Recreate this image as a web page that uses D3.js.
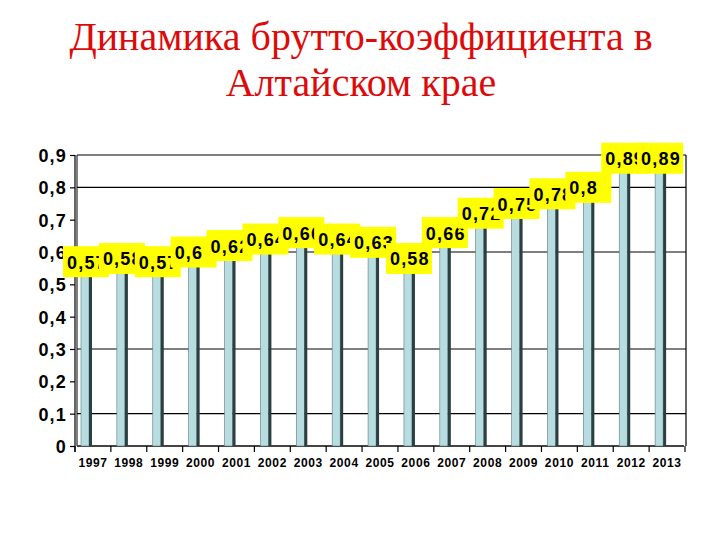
<!DOCTYPE html>
<html><head><meta charset="utf-8">
<script src="https://cdn.jsdelivr.net/npm/d3@7"></script>
<style>body{margin:0;background:#fff}svg{display:block}</style>
</head><body>
<script>
const years = ["1997","1998","1999","2000","2001","2002","2003","2004","2005","2006","2007","2008","2009","2010","2011","2012","2013"];
const values = [0.57,0.58,0.57,0.6,0.62,0.64,0.66,0.64,0.63,0.58,0.66,0.72,0.75,0.78,0.8,0.89,0.89];
const labels = ["0,57","0,58","0,57","0,6","0,62","0,64","0,66","0,64","0,63","0,58","0,66","0,72","0,75","0,78","0,8","0,89","0,89"];
const yTicks = [0,0.1,0.2,0.3,0.4,0.5,0.6,0.7,0.8,0.9];
const yTickLabels = ["0","0,1","0,2","0,3","0,4","0,5","0,6","0,7","0,8","0,9"];
const gridVals = [0.1,0.3,0.6,0.8];
const titleLines = ["Динамика брутто-коэффициента в","Алтайском крае"];

const W=720,H=540;
const SANS="Liberation Sans, Arial, sans-serif";
const svg=d3.select("body").append("svg").attr("width",W).attr("height",H);

svg.selectAll("text.title").data(titleLines).enter().append("text")
  .attr("x",361).attr("y",(d,i)=>50+i*46)
  .attr("text-anchor","middle")
  .style("font-family","'Liberation Serif','Times New Roman',serif")
  .attr("font-size",40).attr("fill","#dd0a0a").text(d=>d);

const x=d3.scaleBand().domain(years).range([75,685]).padding(0);
const y=d3.scaleLinear().domain([0,0.9]).range([446,155]);
const wallX=77, rightX=686;

svg.selectAll("line.grid").data(gridVals).enter().append("line")
  .attr("x1",wallX).attr("x2",rightX).attr("y1",d=>y(d)).attr("y2",d=>y(d))
  .attr("stroke","#000").attr("stroke-width",1.2);
svg.append("line").attr("x1",wallX).attr("x2",rightX).attr("y1",y(0.9)).attr("y2",y(0.9)).attr("stroke","#000").attr("stroke-width",1.2);
svg.append("line").attr("x1",rightX).attr("x2",rightX).attr("y1",y(0.9)).attr("y2",y(0)).attr("stroke","#000").attr("stroke-width",1.2);
svg.append("line").attr("x1",wallX).attr("x2",wallX).attr("y1",y(0.9)).attr("y2",y(0)).attr("stroke","#000").attr("stroke-width",1);
svg.append("line").attr("x1",wallX).attr("x2",rightX-2).attr("y1",y(0)).attr("y2",y(0)).attr("stroke","#444").attr("stroke-width",2.2);

const yAxis=d3.axisLeft(y).tickValues(yTicks).tickSize(5).tickFormat((d,i)=>yTickLabels[i]);
const gy=svg.append("g").attr("transform","translate(75,0)").call(yAxis);
gy.attr("font-family",SANS).attr("font-size",18).attr("font-weight","bold");
gy.select(".domain").attr("d","M0,"+y(0.9)+"V"+(y(0)+6)).attr("stroke","#000").attr("stroke-width",1.2);
gy.selectAll(".tick line").attr("stroke","#000").attr("stroke-width",1.2);
gy.selectAll(".tick text").attr("x",-8).attr("dy","0.36em")
  .attr("letter-spacing","1.2px").attr("fill","#000");

const xAxis=d3.axisBottom(x).tickSize(0).tickSizeOuter(0);
const gx=svg.append("g").attr("transform","translate(0,"+y(0)+")").call(xAxis);
gx.attr("font-family",SANS).attr("font-size",12).attr("font-weight","bold");
gx.select(".domain").remove();
gx.selectAll(".tick text").attr("y",21).attr("dy",0)
  .attr("letter-spacing","0.6px").attr("fill","#000");
const bounds=years.map(d=>x(d)).concat([x(years[years.length-1])+x.bandwidth()]);
svg.selectAll("line.xt").data(bounds).enter().append("line")
  .attr("x1",d=>d).attr("x2",d=>d).attr("y1",y(0)).attr("y2",y(0)+6)
  .attr("stroke","#000").attr("stroke-width",1.2);

const bars=svg.selectAll("g.bar").data(values).enter().append("g");
bars.append("rect").attr("x",(d,i)=>x(years[i])+6).attr("y",d=>y(d))
  .attr("width",8).attr("height",d=>y(0)-y(d)).attr("fill","#b8dde1")
  .attr("stroke","#5a7a7c").attr("stroke-width",0.6);
bars.append("rect").attr("x",(d,i)=>x(years[i])+14).attr("y",d=>y(d))
  .attr("width",3).attr("height",d=>y(0)-y(d)).attr("fill","#2c3f40");

const boxW=46, boxH=31;
const lab=svg.selectAll("g.lab").data(values).enter().append("g");
lab.append("rect").attr("x",(d,i)=>x(years[i])-12).attr("y",d=>y(d)-boxH/2)
  .attr("width",boxW).attr("height",boxH).attr("fill","#ffff00");
lab.append("text")
  .attr("x",(d,i)=>x(years[i])-8).attr("y",d=>y(d)+7)
  .attr("font-family",SANS).attr("font-weight","bold")
  .attr("font-size",18).attr("letter-spacing","1.2px").attr("fill","#000")
  .text((d,i)=>labels[i]);
</script>
</body></html>
